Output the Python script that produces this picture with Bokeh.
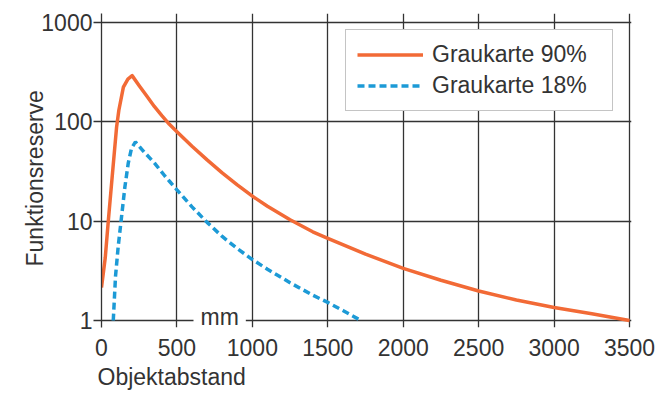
from bokeh.plotting import figure
from bokeh.models import Label, Legend, LegendItem, FixedTicker, PrintfTickFormatter, Range1d, Title
from bokeh.embed import file_html
from bokeh.resources import INLINE

# ---- data ----
orange_x = [0, 25, 45, 70, 100, 115, 145, 175, 203, 250, 300, 350, 400, 450, 500,
            600, 700, 800, 900, 1000, 1100, 1250, 1400, 1500, 1750, 2000, 2250,
            2500, 2750, 3000, 3250, 3500]
orange_y = [2.15, 4.3, 10, 27, 88, 130, 222, 268, 290, 230, 181, 142, 115, 94, 79,
            56.6, 41.2, 30.5, 23.1, 17.8, 14.1, 10.3, 7.8, 6.7, 4.65, 3.35, 2.54,
            1.98, 1.61, 1.355, 1.17, 1.0]

blue_x = [78, 93, 111, 133, 155, 177, 199, 225, 280, 353, 420, 452, 500, 600, 700,
          800, 900, 1000, 1100, 1250, 1400, 1500, 1600, 1720]
blue_y = [1.0, 2.8, 5.6, 11.1, 22, 38, 54, 62.5, 50, 38, 28.4, 25, 20.6, 13.9, 9.7,
          7.0, 5.3, 4.1, 3.28, 2.4, 1.8, 1.52, 1.26, 1.0]

series_names = ["Graukarte 90%", "Graukarte 18%"]
x_ticks = [0, 500, 1000, 1500, 2000, 2500, 3000, 3500]
x_tick_labels = ["0", "500", "1000", "1500", "2000", "2500", "3000", "3500"]
y_ticks = [1, 10, 100, 1000]
y_tick_labels = ["1", "10", "100", "1000"]
x_title = "Objektabstand"
y_title = "Funktionsreserve"
unit_text = "mm"

# ---- styling ----
FONT = "Liberation Sans"
FS = "23px"
TXT = "#333333"
GRID = "#333333"
ORANGE = "#F26A36"
BLUE = "#1C9AD6"

W, H = 660, 392
FL, FR, FT, FB = 101, 631, 13, 328  # frame edges in canvas px

p = figure(width=W, height=H, output_backend="svg", toolbar_location=None,
           x_range=Range1d(0, 3513), y_range=Range1d(0.851, 1222), y_axis_type="log",
           min_border_left=FL, min_border_right=W - FR,
           min_border_top=FT, min_border_bottom=H - FB)
p.outline_line_color = None
p.background_fill_color = "white"
p.border_fill_color = "white"

p.xaxis.ticker = FixedTicker(ticks=x_ticks)
p.xaxis.major_label_overrides = dict(zip(x_ticks, x_tick_labels))
p.yaxis.ticker = FixedTicker(ticks=y_ticks)
p.yaxis.formatter = PrintfTickFormatter(format="%d")
p.yaxis.major_label_overrides = dict(zip(y_ticks, y_tick_labels))

for ax in (p.xaxis, p.yaxis):
    ax.axis_line_color = GRID
    ax.axis_line_width = 1.3
    ax.major_tick_line_color = GRID
    ax.major_tick_line_width = 1.3
    ax.major_tick_in = 0
    ax.minor_tick_line_color = None
    ax.major_label_text_font = FONT
    ax.major_label_text_font_size = FS
    ax.major_label_text_color = TXT
# x axis: the grid lines (running to the frame bottom) act as the ticks,
# the grid line at y=1 acts as the axis line
p.xaxis.axis_line_color = None
p.xaxis.major_tick_line_color = None
p.xaxis.major_tick_out = 0
p.xaxis.major_label_standoff = 11
p.yaxis.major_tick_out = 8
p.yaxis.major_label_standoff = 1

p.grid.grid_line_color = GRID
p.grid.grid_line_width = 1.3
p.ygrid.minor_grid_line_color = None

r1 = p.line(orange_x, orange_y, line_color=ORANGE, line_width=3.5, line_join="round")
r2 = p.line(blue_x, blue_y, line_color=BLUE, line_width=3.5, line_dash="7 4")

legend = Legend(items=[LegendItem(label=series_names[0], renderers=[r1]),
                       LegendItem(label=series_names[1], renderers=[r2])],
                location=(244, 216), padding=11, spacing=4, margin=0,
                glyph_width=66, glyph_height=25, label_height=25, label_width=169,
                label_standoff=9, border_line_color="#8a8a8a", border_line_width=1.2,
                background_fill_color="white", background_fill_alpha=1.0,
                label_text_font=FONT, label_text_font_size=FS, label_text_color=TXT)
p.add_layout(legend)

# unit label sitting on (and interrupting) the x axis line
p.add_layout(Label(x=92, y=11, x_units="screen", y_units="screen", text=unit_text,
                   text_align="left", text_baseline="alphabetic",
                   text_font=FONT, text_font_size=FS, text_color=TXT,
                   background_fill_color="white", background_fill_alpha=1.0, padding=7))

# axis titles
p.add_layout(Title(text=y_title, align="left", offset=61, standoff=-18,
                   text_font=FONT, text_font_size=FS, text_color=TXT,
                   text_font_style="normal"), "left")
p.add_layout(Title(text=x_title, align="left", offset=-4, standoff=6,
                   text_font=FONT, text_font_size=FS, text_color=TXT,
                   text_font_style="normal"), "below")

open("out.html", "w").write(file_html(p, INLINE))
